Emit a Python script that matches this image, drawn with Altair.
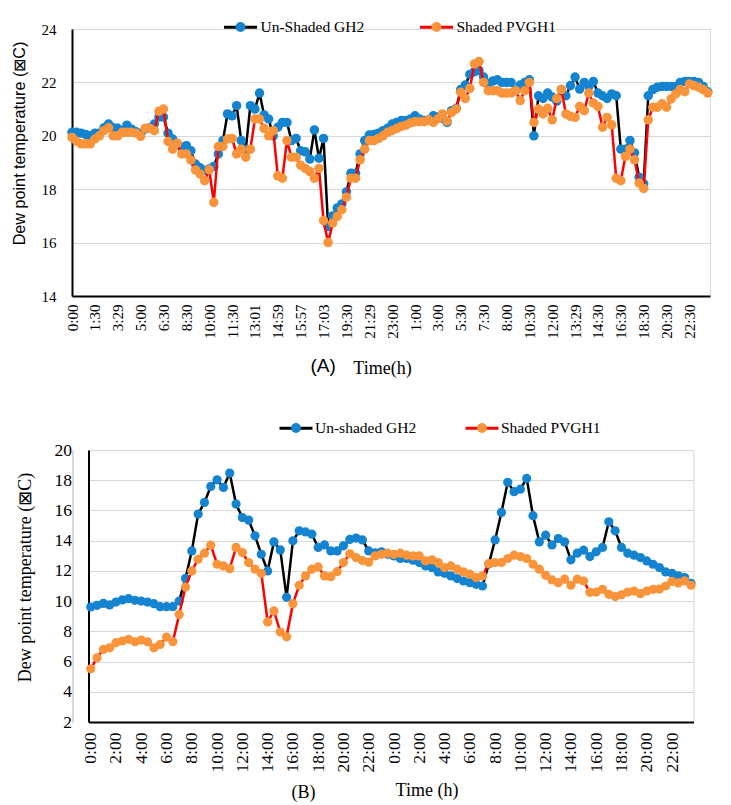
import json
import altair as alt
import pandas as pd

# ------------------------------------------------------------------ data
top_time_labels = ["0:00", "1:30", "3:29", "5:00", "6:30", "8:30", "10:00", "11:30",
                   "13:01", "14:59", "15:57", "17:03", "19:30", "21:29", "23:00", "1:00",
                   "3:00", "5:30", "7:30", "8:00", "10:30", "12:00", "13:29", "14:30",
                   "16:30", "18:30", "20:30", "22:30"]
top_series_names = ["Un-Shaded GH2", "Shaded PVGH1"]
top_unshaded = [
    20.13, 20.13, 20.1, 20.05, 20.0, 20.1, 20.1, 20.3, 20.44, 20.3,
    20.28, 20.2, 20.4, 20.25, 20.15, 20.05, 20.25, 20.3, 20.44, 20.7,
    20.7, 20.1, 19.88, 19.7, 19.57, 19.63, 19.44, 18.94, 18.8, 18.7,
    18.76, 18.85, 19.32, 19.82, 20.82, 20.75, 21.13, 19.82, 19.5, 21.13,
    21.0, 21.6, 20.78, 20.63, 20.0, 20.32, 20.5, 20.5, 19.82, 19.9,
    19.44, 19.4, 19.13, 20.22, 19.16, 19.9, 16.6, 17.0, 17.3, 17.45,
    17.9, 18.6, 18.6, 19.32, 19.82, 20.03, 20.05, 20.1, 20.19, 20.28,
    20.44, 20.5, 20.57, 20.57, 20.63, 20.75, 20.63, 20.57, 20.6, 20.75,
    20.7, 20.65, 20.5, 20.94, 21.03, 21.73, 21.9, 22.3, 22.4, 22.44,
    22.2, 21.95, 22.05, 22.1, 22.0, 22.0, 22.0, 21.7, 21.9, 22.0,
    22.1, 20.0, 21.5, 21.4, 21.6, 21.45, 21.3, 21.73, 21.5, 21.88,
    22.2, 21.75, 22.0, 21.85, 22.03, 21.6, 21.5, 21.4, 21.57, 21.5,
    19.5, 19.5, 19.82, 19.36, 18.45, 18.2, 21.5, 21.73, 21.82, 21.85,
    21.85, 21.85, 21.85, 22.0, 22.03, 22.03, 22.03, 22.0, 21.85, 21.65,
]
top_shaded = [
    19.94, 19.8, 19.7, 19.7, 19.7, 19.88, 20.0, 20.19, 20.3, 20.0,
    20.0, 20.13, 20.13, 20.13, 20.1, 19.98, 20.28, 20.28, 20.19, 20.92,
    21.0, 19.79, 19.5, 19.72, 19.32, 19.32, 19.09, 18.72, 18.57, 18.32,
    18.73, 17.51, 19.6, 19.6, 19.88, 19.9, 19.32, 19.5, 19.2, 19.5,
    20.63, 20.63, 20.28, 20.0, 20.19, 18.5, 18.41, 19.82, 19.2, 19.2,
    18.9, 18.78, 18.66, 18.41, 18.78, 16.82, 16.0, 16.73, 16.98, 17.23,
    17.7, 18.41, 18.41, 19.1, 19.5, 19.82, 19.82, 19.9, 20.0, 20.13,
    20.2, 20.28, 20.35, 20.4, 20.48, 20.53, 20.53, 20.53, 20.6, 20.5,
    20.63, 20.82, 20.55, 20.88, 21.0, 21.63, 21.4, 21.78, 22.69, 22.78,
    22.0, 21.69, 21.69, 21.69, 21.6, 21.6, 21.6, 21.69, 21.32, 21.69,
    22.0, 20.5, 21.0, 20.82, 21.03, 20.6, 21.4, 21.73, 20.82, 20.73,
    20.69, 21.1, 20.94, 21.6, 21.23, 21.1, 20.32, 20.69, 20.41, 18.41,
    18.32, 19.23, 19.5, 19.1, 18.23, 18.03, 20.6, 21.07, 21.07, 21.2,
    21.07, 21.38, 21.57, 21.73, 21.65, 21.94, 21.88, 21.82, 21.73, 21.6,
]

bottom_time_labels = ["0:00", "2:00", "4:00", "6:00", "8:00", "10:00", "12:00", "14:00",
                      "16:00", "18:00", "20:00", "22:00", "0:00", "2:00", "4:00", "6:00",
                      "8:00", "10:00", "12:00", "14:00", "16:00", "18:00", "20:00", "22:00"]
bottom_series_names = ["Un-shaded GH2", "Shaded PVGH1"]
bottom_unshaded = [
    9.61, 9.72, 9.85, 9.75, 9.94, 10.08, 10.16, 10.05, 10.0, 9.94,
    9.83, 9.63, 9.63, 9.63, 10.0, 11.5, 13.32, 15.76, 16.53, 17.59,
    18.03, 17.52, 18.47, 16.42, 15.53, 15.36, 14.32, 13.1, 12.0, 13.92,
    13.39, 10.25, 13.99, 14.65, 14.58, 14.43, 13.55, 13.72, 13.32, 13.32,
    13.66, 14.08, 14.17, 14.05, 13.32, 13.2, 13.26, 13.1, 12.99, 12.82,
    12.82, 12.71, 12.55, 12.33, 12.22, 11.93, 11.84, 11.67, 11.49, 11.33,
    11.22, 11.11, 11.0, 12.45, 14.05, 15.87, 17.86, 17.24, 17.41, 18.12,
    15.65, 13.92, 14.36, 13.72, 14.14, 13.92, 12.73, 13.17, 13.37, 12.95,
    13.26, 13.55, 15.25, 14.65, 13.55, 13.17, 13.04, 12.88, 12.66, 12.44,
    12.22, 11.93, 11.84, 11.67, 11.56, 11.18,
]
bottom_shaded = [
    5.52, 6.25, 6.8, 6.91, 7.25, 7.36, 7.47, 7.31, 7.42, 7.31,
    6.91, 7.13, 7.62, 7.31, 9.12, 10.93, 12.0, 12.77, 13.17, 13.7,
    12.44, 12.33, 12.15, 13.55, 13.21, 12.55, 12.11, 11.84, 8.62, 9.35,
    7.95, 7.64, 9.83, 11.05, 11.67, 12.11, 12.26, 11.67, 11.62, 11.95,
    12.55, 13.13, 12.88, 12.68, 12.58, 12.99, 13.1, 13.17, 13.1, 13.17,
    13.04, 12.99, 12.99, 12.66, 12.73, 12.55, 12.22, 12.33, 12.11, 11.93,
    11.78, 11.56, 11.67, 12.48, 12.55, 12.55, 12.82, 13.04, 12.95, 12.82,
    12.44, 12.11, 11.71, 11.4, 11.22, 11.45, 11.05, 11.45, 11.33, 10.58,
    10.6, 10.78, 10.45, 10.3, 10.42, 10.6, 10.67, 10.49, 10.67, 10.78,
    10.8, 11.0, 11.3, 11.2, 11.34, 11.05,
]

# ------------------------------------------------------------------ style
UN_LINE, SH_LINE = "#000000", "#FF0000"
UN_MARK, SH_MARK = "#1483D0", "#F9943B"
SERIF = "Liberation Serif"
SANS = "Liberation Sans"
GRID = "#D9D9D9"
CIRCLE_PATH = "M-1,0 M1,0 M0.3,0 A0.3,0.3 0 1,1 -0.3,0 A0.3,0.3 0 1,1 0.3,0 Z"


def make_panel(labels, step, un, sh, names, xdomain, ydomain, ystep, width, height, o):
    n = len(un)
    df = pd.DataFrame({
        "idx": list(range(n)) * 2,
        "value": un + sh,
        "series": [names[0]] * n + [names[1]] * n,
        "key": ["1"] * n + ["2"] * n,
    })
    label_expr = json.dumps(labels) + f"[round(datum.value / {step})]"
    xaxis = alt.Axis(
        values=list(range(0, n, step)), labelExpr=label_expr, labelAngle=-90,
        labelFont=SERIF, labelFontSize=o["xlab"], labelColor="black",
        labelPadding=o["xlabpad"], ticks=False, grid=False,
        domainColor="black", domainWidth=2,
        title=o["xtitle"], titleFont=SERIF, titleFontSize=18, titleFontWeight="normal",
        titleColor="black", titleX=o["xtitlex"], titlePadding=o["xtitlepad"],
        labelOverlap=False, labelBound=False, labelFlush=False,
    )
    yaxis = alt.Axis(
        values=list(range(ydomain[0], ydomain[1] + 1, ystep)),
        labelFont=SERIF, labelFontSize=o["ylab"], labelColor="black",
        labelPadding=o["ylabpad"], ticks=False, grid=True, gridColor=GRID, gridWidth=1,
        domainColor="black", domainWidth=2,
        title=o["ytitle"], titleFont=o["ytfont"], titleFontSize=o["ytsize"],
        titleFontWeight="normal", titleColor="black", titlePadding=o["ytitlepad"],
        titleY=o["ytitley"], labelFlush=False,
    )
    x = alt.X("idx:Q", scale=alt.Scale(domain=xdomain, nice=False, zero=False), axis=xaxis)
    y = alt.Y("value:Q", scale=alt.Scale(domain=ydomain, nice=False, zero=False), axis=yaxis)
    common_leg = dict(
        orient="none", legendX=o["legx"], legendY=o["legy"], direction="horizontal",
        title=None, symbolSize=1089, symbolStrokeWidth=3, labelFont=SERIF,
        labelFontSize=o["legfs"], labelOffset=o["legoff"], columnPadding=o["legcol"],
        padding=0, rowPadding=0,
    )
    stroke = alt.Stroke(
        "series:N", scale=alt.Scale(domain=names, range=[UN_LINE, SH_LINE]),
        legend=alt.Legend(symbolType="stroke", labelColor="black", **common_leg),
    )
    fill = alt.Fill(
        "key:N", scale=alt.Scale(domain=["1", "2"], range=[UN_MARK, SH_MARK]),
        legend=alt.Legend(
            symbolType=CIRCLE_PATH, symbolStrokeColor="transparent",
            labelColor="transparent",
            labelExpr=f"datum.label == '1' ? '{names[0]}' : '{names[1]}'",
            **common_leg,
        ),
    )
    base = alt.Chart(df)
    layers = []
    for nm in names:
        sub = base.transform_filter(alt.datum.series == nm)
        layers.append(sub.mark_line(strokeWidth=o["lw"]).encode(x=x, y=y, stroke=stroke))
        layers.append(sub.mark_point(filled=True, size=o["ms"], opacity=1, strokeWidth=0)
                      .encode(x=x, y=y, fill=fill))
    return alt.layer(*layers).properties(
        width=width, height=height,
        title=alt.TitleParams(
            o["tag"], orient="bottom", anchor="start", frame="group",
            font=o["tagfont"], fontSize=o["tagsize"], fontWeight="normal",
            color="black", dx=o["tagdx"], dy=o["tagdy"], offset=0,
        ),
    )


top = make_panel(
    top_time_labels, 5, top_unshaded, top_shaded, top_series_names, [0, 139.5],
    [14, 24], 2, 638, 267,
    dict(xlab=15, xlabpad=8, xtitle="Time(h)", xtitlex=310, xtitlepad=21,
         ylab=15, ylabpad=16, ytitle="Dew point temperature (⊠C)", ytfont=SANS, ytsize=16.2,
         ytitlepad=14, ytitley=114, legx=150.5, legy=-20, legfs=15.5, legoff=2, legcol=49,
         lw=2.5, ms=90, tag="(A)", tagfont=SANS, tagsize=19, tagdx=238.5, tagdy=-20),
)
bottom = make_panel(
    bottom_time_labels, 4, bottom_unshaded, bottom_shaded, bottom_series_names, [-0.35, 95.4],
    [2, 20], 2, 605, 272,
    dict(xlab=17.5, xlabpad=10, xtitle="Time (h)", xtitlex=338, xtitlepad=10,
         ylab=17.5, ylabpad=17, ytitle="Dew point temperature (⊠C)", ytfont=SERIF, ytsize=18,
         ytitlepad=20, ytitley=127, legx=206, legy=-40, legfs=15.5, legoff=1, legcol=42,
         lw=2.5, ms=85, tag="(B)", tagfont=SERIF, tagsize=18, tagdx=203, tagdy=-16),
)

# empty, invisible spacer that shifts panel (B) to the right like the original layout
spacer = (
    alt.Chart(pd.DataFrame({"v": [0]}))
    .mark_point(opacity=0)
    .encode(x=alt.X("v:Q", axis=None), y=alt.Y("v:Q", axis=None))
    .properties(width=1, height=272)
)
row_b = alt.hconcat(spacer, bottom, spacing=15.5, bounds="flush").resolve_scale(
    x="independent", y="independent")

chart = (
    alt.vconcat(top, row_b, spacing=154, bounds="flush")
    .resolve_scale(stroke="independent", fill="independent", x="independent", y="independent")
    .properties(padding={"left": 2, "top": 0, "right": 0, "bottom": 0})
    .configure_view(stroke=GRID, strokeWidth=1)
)

chart.save("out.html", embed_options={"renderer": "svg", "actions": False})
